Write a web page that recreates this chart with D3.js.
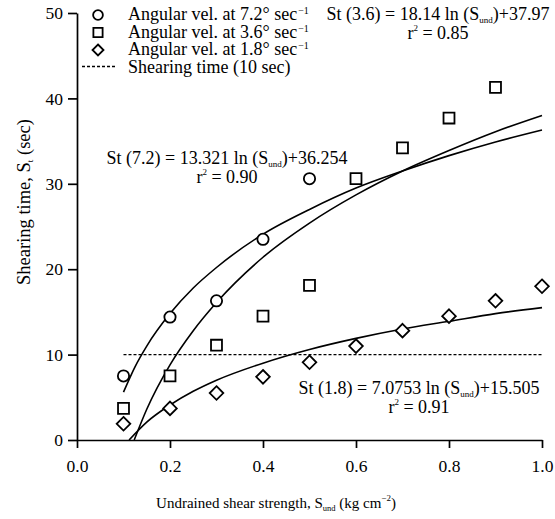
<!DOCTYPE html>
<html><head><meta charset="utf-8">
<script src="https://cdn.jsdelivr.net/npm/d3@7"></script>
<style>
html,body{margin:0;padding:0;background:#fff;}
text{font-family:"Liberation Serif","Times New Roman",serif;fill:#000;}
</style></head>
<body>
<svg id="chart" width="555" height="519"></svg>
<script>
// ---- data ----
const xValues = [0.1,0.2,0.3,0.4,0.5,0.6,0.7,0.8,0.9,1.0];
const vel72 = [7.5,14.4,16.3,23.5,30.6];
const vel36 = [3.7,7.5,11.1,14.5,18.1,30.6,34.2,37.7,41.3];
const vel18 = [1.9,3.7,5.5,7.4,9.1,11.0,12.8,14.5,16.3,18.0];
// fitted trend curves
const fitX72 = [0.1,0.125,0.15,0.2,0.25,0.3,0.4,0.5,0.6,0.7,0.8,0.9,1.0];
const fitY72 = [5.6,8.6,11.0,14.8,17.8,20.2,24.1,27.0,29.5,31.5,33.3,34.9,36.3];
const fitX36 = [0.123,0.15,0.2,0.25,0.3,0.4,0.5,0.6,0.7,0.8,0.9,1.0];
const fitY36 = [0.0,3.6,8.8,12.8,16.1,21.4,25.4,28.7,31.5,33.9,36.1,38.0];
const fitX18 = [0.112,0.15,0.2,0.25,0.3,0.4,0.5,0.6,0.7,0.8,0.9,1.0];
const fitY18 = [0.0,2.1,4.1,5.7,7.0,9.0,10.6,11.9,13.0,13.9,14.8,15.5];
const thresholdX = [0.1,1.0];
const thresholdY = [10,10];
const xTicks = [0,0.2,0.4,0.6,0.8,1.0];
const yTicks = [0,10,20,30,40,50];
const legendLabels = ["Angular vel. at 7.2° sec","Angular vel. at 3.6° sec","Angular vel. at 1.8° sec","Shearing time (10 sec)"];

// ---- chart ----
const svg = d3.select("#chart");
const x = d3.scaleLinear().domain([0,1]).range([77,542]);
const y = d3.scaleLinear().domain([0,50]).range([440,13]);

const xa = svg.append("g").attr("transform","translate(0,440)")
  .call(d3.axisBottom(x).tickValues(xTicks).tickFormat(d3.format(".1f")).tickSize(8).tickSizeOuter(0).tickPadding(12));
const ya = svg.append("g").attr("transform","translate(77,0)")
  .call(d3.axisLeft(y).tickValues(yTicks).tickFormat(d3.format("d")).tickSize(9).tickSizeOuter(0).tickPadding(5));
[xa,ya].forEach(a=>{
  a.selectAll("path,line").attr("stroke","#000").attr("stroke-width",1.7);
  a.selectAll("text").attr("font-family","Liberation Serif").attr("font-size",17.5).attr("fill","#000");
});

// threshold dashed line
svg.append("line")
  .attr("x1",x(thresholdX[0])).attr("x2",x(thresholdX[1]))
  .attr("y1",y(thresholdY[0])).attr("y2",y(thresholdY[1]))
  .attr("stroke","#000").attr("stroke-width",1.4).attr("stroke-dasharray","3,2");

// fit curves
const line = d3.line().x(d=>x(d[0])).y(d=>y(d[1])).curve(d3.curveMonotoneX);
[[fitX72,fitY72],[fitX36,fitY36],[fitX18,fitY18]].forEach(([fx,fy])=>{
  svg.append("path").datum(fx.map((v,i)=>[v,fy[i]]))
    .attr("d",line).attr("fill","none").attr("stroke","#000").attr("stroke-width",1.6);
});

// markers
const shapeD = {
  circle: d3.symbol().type(d3.symbolCircle).size(100)(),
  square: d3.symbol().type(d3.symbolSquare).size(120)(),
  diamond: "M0,-6.8L6.8,0L0,6.8L-6.8,0Z"
};
function drawPts(vals, shape){
  svg.append("g").selectAll("path").data(vals.map((v,i)=>[xValues[i],v])).join("path")
    .attr("transform",d=>`translate(${x(d[0])},${y(d[1])})`)
    .attr("d", shapeD[shape])
    .attr("fill","#fff").attr("stroke","#000").attr("stroke-width",1.8);
}
drawPts(vel72,"circle");
drawPts(vel36,"square");
drawPts(vel18,"diamond");

// legend
const lg = svg.append("g");
const shapes = ["circle","square","diamond"];
const legendD = {
  circle: d3.symbol().type(d3.symbolCircle).size(75)(),
  square: d3.symbol().type(d3.symbolSquare).size(85)(),
  diamond: "M0,-5.5L5.5,0L0,5.5L-5.5,0Z"
};
const rowY = [20,37.5,55,72.5];
shapes.forEach((s,i)=>{
  lg.append("path").attr("transform",`translate(98,${rowY[i]-5})`)
    .attr("d", legendD[s])
    .attr("fill","#fff").attr("stroke","#000").attr("stroke-width",1.8);
  lg.append("text").attr("x",128).attr("y",rowY[i]).attr("font-size",18).text(legendLabels[i]);
});
// superscripts of legend rows as separate texts placed after the main label
lg.selectAll("text").each(function(d,i){
  const bb = this.getBBox();
  lg.append("text").attr("x",bb.x+bb.width+1).attr("y",rowY[i]-6).attr("font-size",10).text("−1");
});
lg.append("line").attr("x1",82).attr("x2",117).attr("y1",rowY[3]-6).attr("y2",rowY[3]-6)
  .attr("stroke","#000").attr("stroke-width",1.4).attr("stroke-dasharray","3,2");
lg.append("text").attr("x",128).attr("y",rowY[3]).attr("font-size",18).text(legendLabels[3]);

// equations
function eq(cx, by, pre, post, r2){
  const t = svg.append("text").attr("x",cx).attr("y",by).attr("text-anchor","middle").attr("font-size",18);
  t.append("tspan").text(pre);
  t.append("tspan").attr("dy",3).attr("font-size",9).text("und");
  t.append("tspan").attr("dy",-3).text(post);
  const r = svg.append("text").attr("x",cx).attr("y",by+19).attr("text-anchor","middle").attr("font-size",18);
  r.append("tspan").text("r");
  r.append("tspan").attr("dy",-8).attr("font-size",9).text("2");
  r.append("tspan").attr("dy",8).text(" = "+r2);
}
eq(438,20,"St (3.6) = 18.14 ln (S",")+37.97","0.85");
eq(227,164,"St (7.2) = 13.321 ln (S",")+36.254","0.90");
eq(419,394,"St (1.8) = 7.0753 ln (S",")+15.505","0.91");

// axis titles
const xt = svg.append("text").attr("x",276).attr("y",508).attr("text-anchor","middle").attr("font-size",15);
xt.append("tspan").text("Undrained shear strength, S");
xt.append("tspan").attr("dy",3).attr("font-size",8.5).text("und");
xt.append("tspan").attr("dy",-3).text(" (kg cm");
xt.append("tspan").attr("dy",-7).attr("font-size",9).text("−2");
xt.append("tspan").attr("dy",7).text(")");

const yt = svg.append("text").attr("transform","translate(30,202) rotate(-90)").attr("text-anchor","middle").attr("font-size",18.5);
yt.append("tspan").text("Shearing time, S");
yt.append("tspan").attr("dy",3).attr("font-size",9).text("t");
yt.append("tspan").attr("dy",-3).text(" (sec)");
</script>
</body></html>
